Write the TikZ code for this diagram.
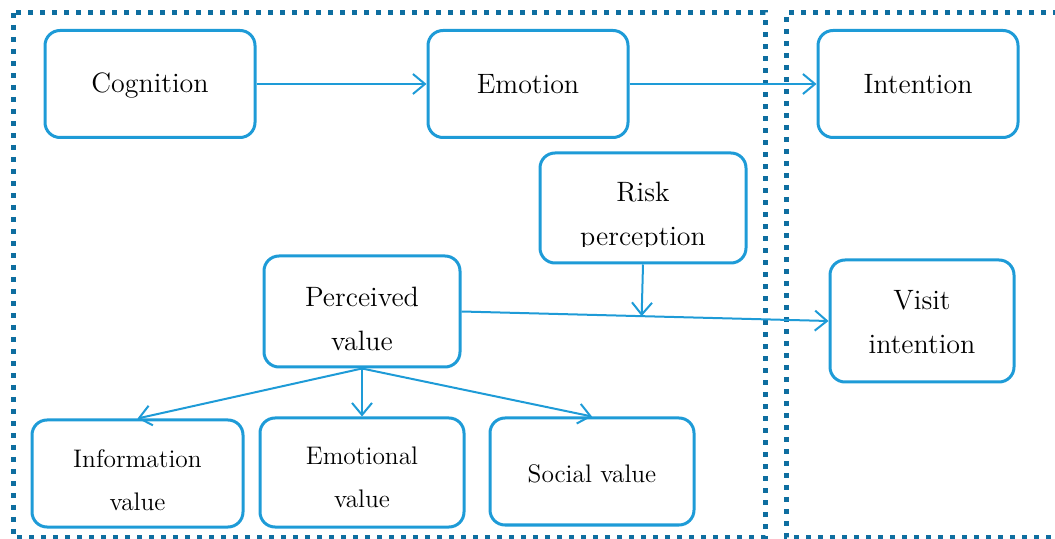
\documentclass[tikz,border=0pt]{standalone}
\usetikzlibrary{arrows.meta,calc}
\definecolor{boxblue}{RGB}{30,155,215}
\definecolor{dotblue}{RGB}{14,110,160}
\begin{document}
\begin{tikzpicture}[x=0.5pt, y=-0.5pt,
    box/.style={draw=boxblue, line width=1.5pt, rounded corners=7.5pt, inner sep=0pt},
    txt/.style={align=center, inner sep=0pt, font=\fontsize{14}{22}\selectfont},
    smalltxt/.style={txt, font=\fontsize{12.7}{21.5}\selectfont},
    link/.style={draw=boxblue, line width=1pt, -{Straight Barb[length=6pt,width=10pt]}},
    frame/.style={draw=dotblue, line width=2.5pt, dash pattern=on 2.5pt off 3.5pt}]
    \useasboundingbox (0,0) rectangle (1055,539);

    % Dotted frames
    \draw[frame] (13,13) rectangle (765,537);
    \draw[frame] (1070,13) -- (786,13) -- (786,537) -- (1070,537);

    % Top row
    \node[box, minimum width=105pt, minimum height=53.5pt] (cog) at (150,84) {};
    \node[box, minimum width=100pt, minimum height=53.5pt] (emo) at (528,84) {};
    \node[box, minimum width=100pt, minimum height=53.5pt] (int) at (918,84) {};
    \node[txt] (cogtext) at ([yshift=-1pt]cog.center) {Cognition};
    \node[txt] (emotext) at (emo.center) {Emotion};
    \node[txt] (inttext) at (int.center) {Intention};

    % Risk perception (second line cut by the box)
    \node[box, minimum width=103pt, minimum height=55pt] (risk) at (643,208) {};
    \begin{scope}
        \clip (540,153) rectangle (746,247);
        \node[txt] (risktext) at ([yshift=-4.5pt]risk.center) {Risk\\perception};
    \end{scope}

    % Middle row
    \node[box, minimum width=98pt, minimum height=55.5pt] (perc) at (362,311.5) {};
    \node[box, minimum width=92pt, minimum height=61pt] (visit) at (922,321) {};
    \node[txt] (perctext) at ([yshift=-3.5pt]perc.center) {Perceived\\value};
    \node[txt] (visittext) at ([yshift=-0.5pt]visit.center) {Visit\\intention};

    % Bottom row
    \node[box, minimum width=105.5pt, minimum height=53.5pt] (info) at (137.5,473.5) {};
    \node[box, minimum width=102pt, minimum height=54.5pt] (emval) at (362,472.5) {};
    \node[box, minimum width=102pt, minimum height=53.5pt] (soc) at (592,471.5) {};
    \node[smalltxt] (infotext) at ([yshift=-3.5pt]info.center) {Information\\value};
    \node[smalltxt] (emvaltext) at ([yshift=-2.5pt]emval.center) {Emotional\\value};
    \node[smalltxt] (soctext) at ([yshift=-1pt]soc.center) {Social value};

    % Connectors
    \draw[link] (cog) -- (emo);
    \draw[link] (emo) -- (int);
    \draw[link] (perc.east) -- (visit.west);
    \coordinate (riskend) at ($(perc.east)!(risk.south)!(visit.west)$);
    \draw[link] (risk.south) -- (riskend);
    \draw[link] (perc.south) -- (info.north);
    \draw[link] (perc.south) -- (emval.north);
    \draw[link] (perc.south) -- (soc.north);
\end{tikzpicture}
\end{document}
